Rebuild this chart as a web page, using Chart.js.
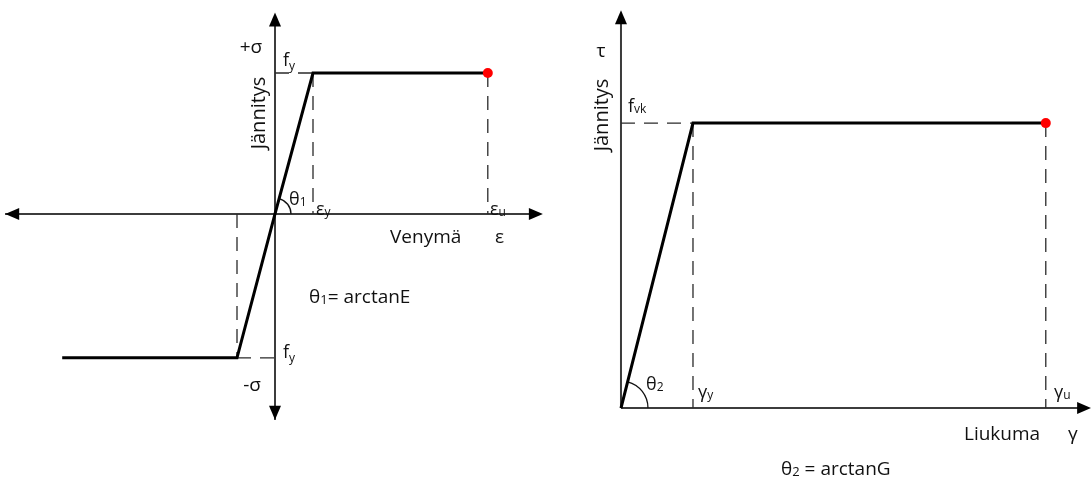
<!DOCTYPE html>
<html>
<head>
<meta charset="utf-8">
<script src="https://cdn.jsdelivr.net/npm/chart.js@4/dist/chart.umd.min.js"></script>
<style>
  html, body { margin: 0; padding: 0; background: #fff; }
  #wrap { position: relative; width: 1091px; height: 480px; overflow: hidden; }
  canvas { position: absolute; top: 0; }
</style>
</head>
<body>
<div id="wrap">
  <canvas id="steel" width="550" height="480" style="left:0"></canvas>
  <canvas id="shear" width="531" height="480" style="left:560px"></canvas>
</div>
<script>
// Elastic–plastic stress–strain model (units of εy and fy)
const strain = [-5.6, -1, 0, 1, 5.6];
const stress = [-1.02, -1.02, 0, 1, 1];

// Shear stress–slip model (units of γy and fvk)
const slip = [0, 1, 5.9];
const shearStress = [0, 1, 1];

const FONT = "'Open Sans', 'Noto Sans', sans-serif";
const INK = '#111';

function pts(xs, ys) { return xs.map((v, i) => ({ x: v, y: ys[i] })); }

function dashed(a, b) {
  return {
    type: 'line', data: [a, b], borderColor: '#2a2a2a', borderWidth: 1.3,
    borderDash: [14, 9], pointRadius: 0, fill: false, order: 2
  };
}

function curve(xs, ys) {
  return {
    type: 'line', data: pts(xs, ys), borderColor: '#000', borderWidth: 3,
    pointRadius: xs.map((_, i) => i === xs.length - 1 ? 5 : 0),
    pointBackgroundColor: '#ff0000', pointBorderColor: '#ff0000', pointBorderWidth: 0,
    fill: false, tension: 0, order: 1, clip: false
  };
}

function arrowHead(ctx, x, y, ang) {
  const L = 14, W = 6;
  ctx.beginPath();
  ctx.moveTo(x, y);
  ctx.lineTo(x - L * Math.cos(ang) + W * Math.sin(ang), y - L * Math.sin(ang) - W * Math.cos(ang));
  ctx.lineTo(x - L * Math.cos(ang) - W * Math.sin(ang), y - L * Math.sin(ang) + W * Math.cos(ang));
  ctx.closePath();
  ctx.fill();
}

function drawText(ctx, lb) {
  const size = lb.size || 19;
  ctx.save();
  ctx.translate(lb.x, lb.y);
  if (lb.rot) ctx.rotate(lb.rot);
  ctx.fillStyle = INK;
  ctx.textBaseline = 'alphabetic';
  ctx.font = size + 'px ' + FONT;
  const w = ctx.measureText(lb.t).width;
  let sw = 0;
  const ss = Math.round(size * 0.66);
  if (lb.s) { ctx.font = ss + 'px ' + FONT; sw = ctx.measureText(lb.s).width; }
  let rest = 0;
  if (lb.r) { ctx.font = size + 'px ' + FONT; rest = ctx.measureText(lb.r).width; }
  const total = w + sw + rest;
  const x0 = lb.align === 'center' ? -total / 2 : 0;
  ctx.font = size + 'px ' + FONT;
  ctx.textAlign = 'left';
  ctx.fillText(lb.t, x0, 0);
  if (lb.s) {
    ctx.font = ss + 'px ' + FONT;
    ctx.fillText(lb.s, x0 + w, lb.drop != null ? lb.drop : 3);
  }
  if (lb.r) {
    ctx.font = size + 'px ' + FONT;
    ctx.fillText(lb.r, x0 + w + sw, 0);
  }
  ctx.restore();
}

// Draws the arrowed axes, the angle arc and the annotations
const diagram = {
  id: 'diagram',
  beforeDatasetsDraw(chart, args, opts) {
    const { ctx, scales: { x, y } } = chart;
    ctx.save();
    ctx.strokeStyle = '#3c3c3c';
    ctx.fillStyle = '#000';
    ctx.lineWidth = 2;
    for (const ax of opts.axes) {
      const x1 = x.getPixelForValue(ax.from[0]), y1 = y.getPixelForValue(ax.from[1]);
      const x2 = x.getPixelForValue(ax.to[0]), y2 = y.getPixelForValue(ax.to[1]);
      const ang = Math.atan2(y2 - y1, x2 - x1);
      ctx.beginPath();
      ctx.moveTo(x1, y1);
      ctx.lineTo(x2 - 8 * Math.cos(ang), y2 - 8 * Math.sin(ang));
      ctx.stroke();
      arrowHead(ctx, x2, y2, ang);
      if (ax.both) {
        ctx.beginPath();
        ctx.moveTo(x1 + 8 * Math.cos(ang), y1 + 8 * Math.sin(ang));
        ctx.lineTo(x1, y1);
        ctx.stroke();
        arrowHead(ctx, x1, y1, ang + Math.PI);
      }
    }
    // angle between the elastic branch and the horizontal axis
    const ox = x.getPixelForValue(0), oy = y.getPixelForValue(0);
    const px = x.getPixelForValue(opts.arc.to[0]), py = y.getPixelForValue(opts.arc.to[1]);
    const a = Math.atan2(py - oy, px - ox);
    ctx.strokeStyle = '#111';
    ctx.lineWidth = 1.3;
    ctx.beginPath();
    ctx.arc(ox, oy, opts.arc.r, a, 0);
    ctx.stroke();
    ctx.restore();
  },
  afterDatasetsDraw(chart, args, opts) {
    const { ctx } = chart;
    for (const lb of opts.labels) drawText(ctx, lb);
  }
};

function baseOptions(xr, yr, extra) {
  return {
    responsive: false,
    animation: false,
    events: [],
    layout: { padding: 0, autoPadding: false },
    scales: {
      x: { type: 'linear', min: xr[0], max: xr[1], display: false },
      y: { type: 'linear', min: yr[0], max: yr[1], display: false }
    },
    plugins: { legend: { display: false }, tooltip: { enabled: false }, diagram: extra },
    elements: { line: { borderCapStyle: 'butt' } }
  };
}

// Left: tension / compression
new Chart(document.getElementById('steel'), {
  type: 'line',
  data: {
    datasets: [
      curve(strain, stress),
      dashed({ x: 0, y: stress[3] }, { x: strain[3], y: stress[3] }),
      dashed({ x: strain[3], y: stress[3] }, { x: strain[3], y: 0 }),
      dashed({ x: strain[4], y: stress[4] }, { x: strain[4], y: 0 }),
      dashed({ x: strain[1], y: 0 }, { x: strain[1], y: stress[1] }),
      dashed({ x: strain[1], y: stress[1] }, { x: 0, y: stress[1] })
    ]
  },
  options: baseOptions([-7.237, 7.237], [-1.887, 1.518], {
    axes: [
      { from: [-7.1, 0], to: [7.05, 0], both: true },
      { from: [0, -1.46], to: [0, 1.43], both: true }
    ],
    arc: { to: [strain[3], stress[3]], r: 16 },
    labels: [
      { t: '+σ', x: 251, y: 53, align: 'center' },
      { t: 'f', s: 'y', x: 283, y: 66, size: 18, drop: 4 },
      { t: 'Jännitys', x: 265, y: 113, size: 20, rot: -Math.PI / 2, align: 'center' },
      { t: 'θ', s: '1', x: 289, y: 205, size: 18, drop: 1 },
      { t: 'ε', s: 'y', x: 316, y: 215, size: 18, drop: 1 },
      { t: 'ε', s: 'u', x: 490, y: 215, size: 18, drop: 1 },
      { t: 'Venymä', x: 390, y: 243 },
      { t: 'ε', x: 495, y: 243 },
      { t: 'θ', s: '1', r: '= arctanE', x: 309, y: 303, drop: 1 },
      { t: 'f', s: 'y', x: 283, y: 358, size: 18, drop: 4 },
      { t: '-σ', x: 252, y: 391, align: 'center' }
    ]
  }),
  plugins: [diagram]
});

// Right: shear
new Chart(document.getElementById('shear'), {
  type: 'line',
  data: {
    datasets: [
      curve(slip, shearStress),
      dashed({ x: 0, y: shearStress[1] }, { x: slip[1], y: shearStress[1] }),
      dashed({ x: slip[1], y: shearStress[1] }, { x: slip[1], y: 0 }),
      dashed({ x: slip[2], y: shearStress[2] }, { x: slip[2], y: 0 })
    ]
  },
  options: baseOptions([-0.847, 6.528], [-0.2526, 1.432], {
    axes: [
      { from: [0, 0], to: [6.53, 0] },
      { from: [0, 0], to: [0, 1.396] }
    ],
    arc: { to: [slip[1], shearStress[1]], r: 27 },
    labels: [
      { t: 'τ', x: 41, y: 57, align: 'center' },
      { t: 'Jännitys', x: 48, y: 115, size: 20, rot: -Math.PI / 2, align: 'center' },
      { t: 'f', s: 'vk', x: 68, y: 112, size: 18, drop: 1 },
      { t: 'θ', s: '2', x: 86, y: 390, size: 18, drop: 1 },
      { t: 'γ', s: 'y', x: 138, y: 398, size: 18, drop: 1 },
      { t: 'γ', s: 'u', x: 494, y: 398, size: 18, drop: 1 },
      { t: 'Liukuma', x: 404, y: 440 },
      { t: 'γ', x: 508, y: 440 },
      { t: 'θ', s: '2', r: ' = arctanG', x: 221, y: 475, drop: 1 }
    ]
  }),
  plugins: [diagram]
});
</script>
</body>
</html>
